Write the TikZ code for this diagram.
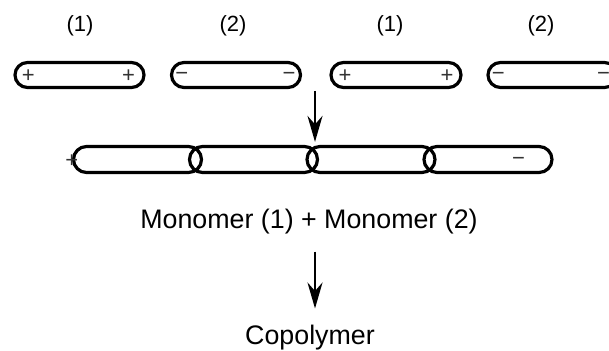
\documentclass[tikz,border=0pt]{standalone}
\usepackage{fontspec}
\setmainfont{Liberation Sans}
\usetikzlibrary{positioning,shapes.misc,arrows.meta}

\begin{document}
\begin{tikzpicture}[x=0.5pt,y=-0.5pt]
\tikzstyle{unit}=[rounded rectangle,draw,line width=1.6pt,minimum height=12.5pt,inner sep=0pt]
\tikzstyle{sign}=[inner sep=0pt,yshift=-0.8pt,text=black!80,font=\fontsize{11}{13}\selectfont]
\tikzstyle{tag}=[font=\fontsize{11}{13}\selectfont]
\tikzstyle{word}=[font=\fontsize{13.4}{16}\selectfont,anchor=base]
\tikzstyle{arr}=[line width=1.1pt,-{Stealth[length=13pt,width=7.5pt]}]
\useasboundingbox (0,0) rectangle (609,351);
% monomers
\node[tag] (t1) at (80,26) {(1)};
\node[tag] (t2) at (233,26) {(2)};
\node[tag] (t3) at (390,26) {(1)};
\node[tag] (t4) at (541,26) {(2)};
\node[unit,minimum width=64.5pt] (m1) at (79.5,75) {};
\node[unit,minimum width=64.5pt] (m2) at (236,75) {};
\node[unit,minimum width=65pt] (m3) at (396,75) {};
\node[unit,minimum width=64.5pt] (m4) at (552.5,75) {};
\node[sign] (p1) at ([xshift=7.5pt]m1.west) {+};
\node[sign] (p2) at ([xshift=-8.5pt]m1.east) {+};
\node[sign] (n1) at ([xshift=6pt]m2.west) {−};
\node[sign] (n2) at ([xshift=-6.5pt]m2.east) {−};
\node[sign] (p3) at ([xshift=7.8pt]m3.west) {+};
\node[sign] (p4) at ([xshift=-7.8pt]m3.east) {+};
\node[sign] (n3) at ([xshift=6pt]m4.west) {−};
\node[sign] (n4) at ([xshift=-7.5pt]m4.east) {−};
% chain
\node[unit,minimum width=64pt,minimum height=13pt] (c1) at (137.5,159.5) {};
\node[unit,minimum width=64pt,minimum height=13pt] (c2) at (253.5,159.5) {};
\node[unit,minimum width=64pt,minimum height=13pt] (c3) at (371,159.5) {};
\node[unit,minimum width=64pt,minimum height=13pt] (c4) at (488,159.5) {};
\node[sign] (cp) at (c1.west) {+};
\node[sign] (cm) at ([xshift=-17.5pt]c4.east) {−};
\coordinate (drop) at (315,91);
\draw[arr,shorten >=1.5pt] (drop) -- (drop |- c2.north);
% text
\node[word] (mono) at (309,229) {Monomer (1) + Monomer (2)};
\node[word] (copo) at (310,345) {Copolymer};
\draw[arr,shorten <=5pt,shorten >=5pt] (mono.south -| drop) -- (copo.north -| drop);
\end{tikzpicture}
\end{document}
